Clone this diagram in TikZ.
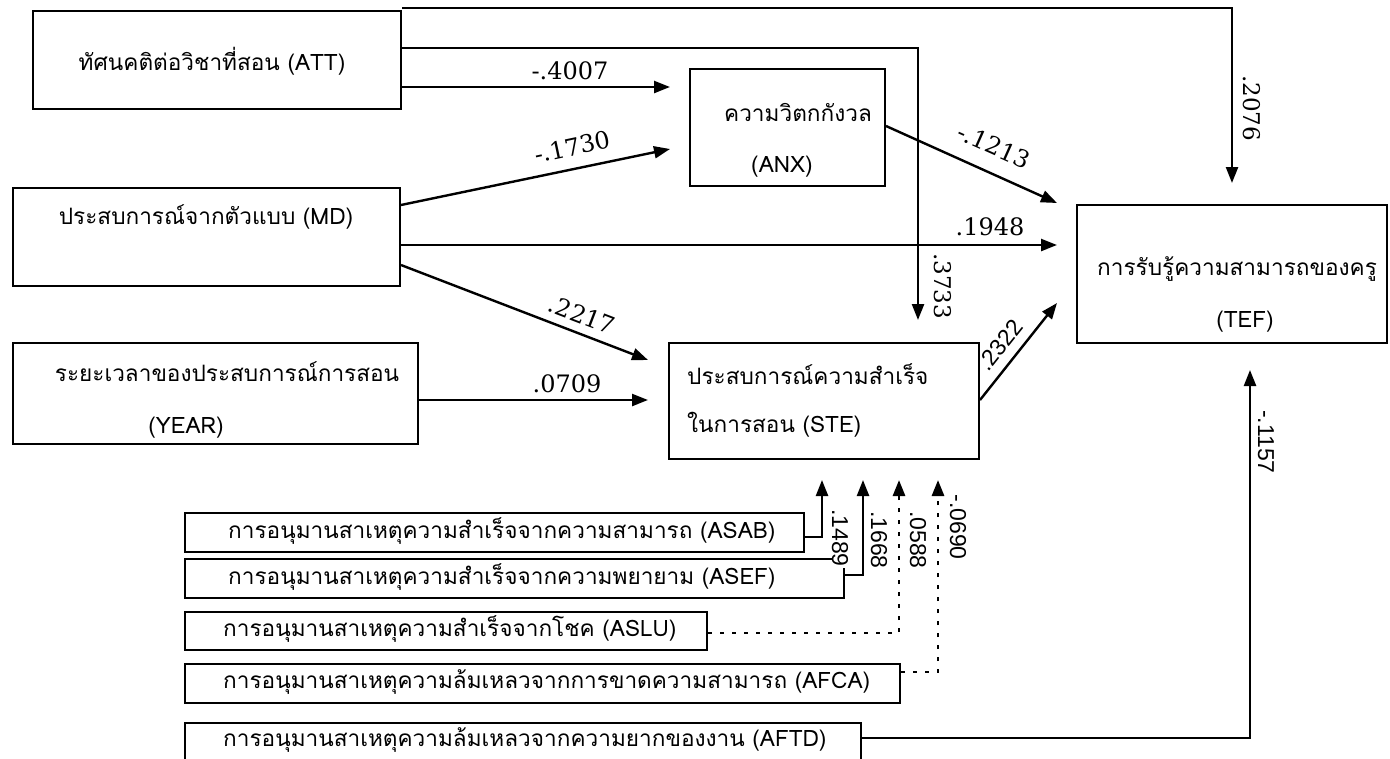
\documentclass[tikz,border=0pt]{standalone}
\usepackage{fontspec}
\setmainfont{DejaVu Serif}
\newfontfamily\thaifont[Script=Thai]{Loma}
\newfontfamily\numsans{Liberation Sans}
\usetikzlibrary{arrows.meta,calc}
\begin{document}
\begin{tikzpicture}[x=1pt,y=-1pt,
  box/.style={draw,line width=2pt,rectangle,inner sep=0pt,anchor=north west},
  lab/.style={inner sep=0pt,font=\thaifont\fontsize{22.6}{27}\selectfont},
  labw/.style={lab,anchor=west},
  num/.style={inner sep=0pt,font=\fontsize{24}{28}\selectfont},
  vnum/.style={inner sep=0pt,rotate=-90,font=\fontsize{23}{26}\selectfont},
  snum/.style={inner sep=0pt,font=\numsans\fontsize{23}{26}\selectfont},
  vsans/.style={snum,rotate=-90},
  conn/.style={line width=2.4pt,-{Triangle[length=16pt,width=12pt]}},
  dotconn/.style={conn,line width=2.8pt,dash pattern=on 4pt off 8pt},
]
\useasboundingbox (0,0) rectangle (1390,758);
% boxes
\node[box,minimum width=368pt,minimum height=98pt] (ATT) at (32,10) {};
\node[box,minimum width=387pt,minimum height=98pt] (MD) at (12,187) {};
\node[box,minimum width=405pt,minimum height=101pt] (YEAR) at (12,342) {};
\node[box,minimum width=195pt,minimum height=117pt] (ANX) at (689,68) {};
\node[box,minimum width=310pt,minimum height=116pt] (STE) at (668,342) {};
\node[box,minimum width=310pt,minimum height=138pt] (TEF) at (1076,204) {};
\node[box,minimum width=619pt,minimum height=39pt] (ASAB) at (184,512) {};
\node[box,minimum width=659pt,minimum height=39pt] (ASEF) at (184,558) {};
\node[box,minimum width=522pt,minimum height=38pt] (ASLU) at (184,611) {};
\node[box,minimum width=715pt,minimum height=39pt] (AFCA) at (184,663) {};
\node[box,minimum width=676pt,minimum height=44pt] (AFTD) at (184,722) {};
% texts
\node[lab] (tATT) at (212,61) {ทัศนคติต่อวิชาที่สอน (ATT)};
\node[lab] (tMD) at (206,217) {ประสบการณ์จากตัวแบบ (MD)};
\node[lab] (tYEARa) at (227,372) {ระยะเวลาของประสบการณ์การสอน};
\node[lab] (tYEARb) at (186,428) {(YEAR)};
\node[lab] (tANXa) at (798,112) {ความวิตกกังวล};
\node[lab] (tANXb) at (782,167) {(ANX)};
\node[labw] (tSTEa) at (687,374) {ประสบการณ์ความสำเร็จ};
\node[labw] (tSTEb) at (687,425) {ในการสอน (STE)};
\node[lab] (tTEFa) at (1237,269) {การรับรู้ความสามารถของครู};
\node[lab] (tTEFb) at (1245,322) {(TEF)};
\node[labw] (tASAB) at (228,531) {การอนุมานสาเหตุความสำเร็จจากความสามารถ (ASAB)};
\node[labw] (tASEF) at (228,577) {การอนุมานสาเหตุความสำเร็จจากความพยายาม (ASEF)};
\node[labw] (tASLU) at (223,629) {การอนุมานสาเหตุความสำเร็จจากโชค (ASLU)};
\node[labw] (tAFCA) at (223,682) {การอนุมานสาเหตุความล้มเหลวจากการขาดความสามารถ (AFCA)};
\node[labw] (tAFTD) at (223,740) {การอนุมานสาเหตุความล้มเหลวจากความยากของงาน (AFTD)};
% connectors
\draw[conn] ($(ATT.north east)+(0,-2)$) -| ($(TEF.north west)+(156,-21)$);
\draw[conn] (ATT.east |- 0,48) -| ($(STE.north west)+(250,-22)$);
\draw[conn] (ATT.east |- 0,87) -- ($(ANX.west |- 0,87)+(-19,0)$);
\draw[conn] (MD.east |- 0,205) -- ($(ANX.south west)+(-19,-38)$);
\draw[conn] (MD.east |- 0,245) -- ($(TEF.west |- 0,245)+(-19,0)$);
\draw[conn] (MD.east |- 0,265) -- ($(STE.north west)+(-20,18)$);
\draw[conn] (YEAR.east |- 0,400) -- ($(STE.west |- 0,400)+(-20,0)$);
\draw[conn] (ANX.east |- 0,126) -- ($(TEF.north west)+(-19,-1)$);
\draw[conn] (STE.east |- 0,400) -- ($(TEF.west |- 0,303)+(-19,0)$);
\draw[conn] (AFTD.east |- 0,738) -| ($(TEF.south west)+(174,26)$);
\draw[conn] (ASAB.east |- 0,537) -| ($(STE.south west)+(154,20)$);
\draw[conn] (ASEF.east |- 0,575) -| ($(STE.south west)+(195,20)$);
\draw[dotconn] (ASLU.east |- 0,633) -| ($(STE.south west)+(231,20)$);
\draw[dotconn] (AFCA.east |- 0,672) -| ($(STE.south west)+(270,20)$);
% coefficient labels
\node[num] (c4007) at (570,71) {-.4007};
\node[num,rotate=12] (c1730) at (572,147) {-.1730};
\node[num] (c1948) at (990,227) {.1948};
\node[num,rotate=-21] (c2217) at (582,315) {.2217};
\node[num] (c0709) at (567,384) {.0709};
\node[num,rotate=-24] (c1213) at (994,146) {-.1213};
\node[snum,rotate=51.6] (c2322) at (1000,345) {.2322};
\node[vnum] (c2076) at (1252,108) {.2076};
\node[vnum] (c3733) at (943,286) {.3733};
\node[vsans,fill=white,inner xsep=1pt] (c1489) at (840,538) {.1489};
\node[vsans] (c1668) at (879,540) {.1668};
\node[vsans] (c0588) at (918,540) {.0588};
\node[vsans] (c0690) at (958,527) {-.0690};
\node[vsans] (c1157) at (1266,442) {-.1157};
\end{tikzpicture}
\end{document}
